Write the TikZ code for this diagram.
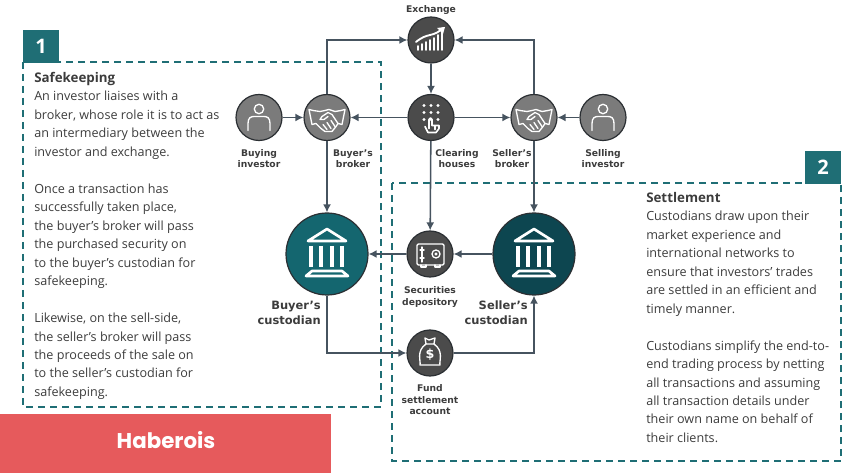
\documentclass[tikz,border=0pt]{standalone}
\usepackage{fontspec}
\setmainfont{Open Sans}
\newfontfamily\lblfont{DejaVu Sans}
\newfontfamily\brandfont{Poppins}
\usetikzlibrary{arrows.meta}
\definecolor{tealA}{HTML}{14666F}
\definecolor{tealB}{HTML}{0D4650}
\definecolor{tealD}{HTML}{1F6E75}
\definecolor{grayA}{HTML}{7B7B7B}
\definecolor{grayB}{HTML}{4B4B4B}
\definecolor{edgeC}{HTML}{2B2F33}
\definecolor{lineC}{HTML}{46535F}
\definecolor{txtC}{HTML}{3C3C3C}
\definecolor{redA}{HTML}{E65A5C}
\tikzset{
  x=.75pt,y=-.75pt,
  disc/.style={circle,draw=edgeC,line width=.9pt,inner sep=0pt,minimum size=34.5pt},
  biggy/.style={circle,draw=edgeC,line width=.9pt,inner sep=0pt,minimum size=61.5pt},
  conn/.style={draw=lineC,line width=1.15pt,-{Latex[length=6pt,width=6pt]}},
  lbl/.style={font=\lblfont\bfseries\fontsize{6.9}{8.6}\selectfont,text=txtC,align=center,inner sep=0pt},
  biglbl/.style={font=\lblfont\bfseries\fontsize{8.6}{11.2}\selectfont,text=txtC,align=right,inner sep=0pt},
  body/.style={font=\fontsize{9.45}{13.85}\selectfont,text=txtC,align=left,inner sep=0pt,anchor=north west},
  dashbox/.style={draw=tealD,line width=.9pt,dash pattern=on 5pt off 4pt},
  numbox/.style={fill=tealD,text=white,inner sep=0pt,font=\bfseries\fontsize{15}{15}\selectfont,minimum width=27pt,minimum height=24.5pt},
  ic/.style={draw=white,line width=1pt,line join=round,line cap=round},
  pics/personicon/.style={code={
    \draw[ic] (0,-8.5) circle[radius=4.7];
    \draw[ic] (-11,13) -- (-11,6) .. controls (-11,0) and (-8,-1) .. (-5,-1) -- (5,-1) .. controls (8,-1) and (11,0) .. (11,6) -- (11,13);
  }},
  pics/shakeicon/.style={code={
    \draw[ic] (-14,-7) -- (-18,-8) -- (-15,7) -- (-11,6);
    \draw[ic] (14,-7) -- (18,-8) -- (15,7) -- (11,6);
    \draw[ic] (-14,-7) -- (-7,-6) -- (-2,-7) -- (2,-8) -- (8,-6) -- (14,-7);
    \draw[ic] (11,6) -- (5,-3) -- (1,-5) -- (-5,-1) -- (-7,2) -- (-3,2) -- (1,-1);
    \draw[ic] (-11,6) -- (-6,11) -- (-2,14) -- (5,14) -- (9,9) -- (11,6);
    \draw[ic] (-4,7) -- (0,12) (0,5) -- (4,11) (4,3) -- (8,9);
  }},
  pics/charticon/.style={code={
    \foreach \bx/\by in {-13/6,-9/4,-5/2,-1/0,3/-2,7/-5,11/-8}{
      \draw[ic,line width=1.4pt] (\bx,10) -- (\bx,\by);
    }
    \draw[ic,line width=1.4pt] (-15,2) .. controls (-9,-3) and (-5,-4) .. (-1,-5) .. controls (4,-6) and (8,-8) .. (12,-12);
    \fill[white] (14,-13) -- (6,-12) -- (12,-6) -- cycle;
  }},
  pics/keypadicon/.style={code={
    \foreach \kx in {-7,0,7}{\foreach \ky in {-12,-5,2}{\fill[white] (\kx,\ky) circle[radius=1.6];}}
    \draw[ic,line width=1.2pt] (-3,15) -- (-6,9) (-3,15) -- (5,15) -- (8,11) -- (8,8) (-2,11) -- (-2,2) .. controls (-2,0) and (1,0) .. (1,2) -- (1,8) -- (8,8) (4,8) -- (4,12);
  }},
  pics/safeicon/.style={code={
    \draw[ic,rounded corners=1pt] (-13,-10) rectangle (14,11);
    \draw[ic] (6,0) circle[radius=4] (6,0) circle[radius=1];
    \draw[ic] (-8,-7) -- (-8,8) (-10,-4) -- (-6,-4) (-10,4) -- (-6,4);
    \draw[ic] (-9,11) -- (-9,13) -- (-4,13) -- (-4,11) (5,11) -- (5,13) -- (10,13) -- (10,11);
  }},
  pics/bagicon/.style={code={
    \draw[ic] (-4,-9) .. controls (-14,-2) and (-9,8) .. (-10,12) -- (10,12) .. controls (9,8) and (14,-2) .. (4,-9);
    \draw[ic] (-4,-9) -- (-5,-15) -- (-1,-13) -- (5,-15) -- (4,-9) -- cycle;
    \node[font=\lblfont\bfseries\fontsize{9.5}{9.5}\selectfont,text=white,inner sep=0pt] at (0,2) {\$};
  }},
  pics/templeicon/.style={code={
    \draw[white,line width=2pt,line join=round] (0,-25) -- (-19,-13) -- (19,-13) -- cycle;
    \foreach \cx in {-16,-6,5,15}{\draw[white,line width=2.4pt] (\cx,-8) -- (\cx,13);}
    \draw[white,line width=2pt,line join=round] (-15,17) -- (15,17) -- (21,22) -- (-21,22) -- cycle;
  }},
}
\begin{document}
\begin{tikzpicture}
\useasboundingbox (0,0) rectangle (850,474);
% dashed regions
\draw[dashbox] (23,62) rectangle (381,407);
\draw[dashbox] (392,183) rectangle (841,461);
\node[numbox] (n1) at (41,46.5) {1};
\node[numbox] (n2) at (823,167.5) {2};
\fill[redA] (0,414) rectangle (331,473);
\node[font=\brandfont\bfseries\fontsize{16}{16}\selectfont,text=white,inner sep=0pt] (brand) at (166,440) {Haberois};
% circles
\node[disc,fill=grayB] (ex) at (431,40) {};
\node[disc,fill=grayB] (ch) at (431,117.5) {};
\node[disc,fill=grayA] (bi) at (259,117.5) {};
\node[disc,fill=grayA] (bb) at (327,117.5) {};
\node[disc,fill=grayA] (sb) at (534,117.5) {};
\node[disc,fill=grayA] (si) at (603,117.5) {};
\node[disc,fill=grayB] (sd) at (430,254) {};
\node[disc,fill=grayB] (fs) at (430,353) {};
\node[biggy,fill=tealA] (bc) at (327,254) {};
\node[biggy,fill=tealB] (sc) at (534,254) {};
% icons
\pic at (431,40) {charticon};
\pic at (431,117.5) {keypadicon};
\pic at (259,117.5) {personicon};
\pic at (603,117.5) {personicon};
\pic at (327,117.5) {shakeicon};
\pic at (534,117.5) {shakeicon};
\pic at (430,254) {safeicon};
\pic at (430,353) {bagicon};
\pic at (327,254) {templeicon};
\pic at (534,254) {templeicon};
% connectors
\draw[conn] (bb.north) |- (ex.west);
\draw[conn] (sb.north) |- (ex.east);
\draw[conn] (ex) -- (ch);
\draw[conn] (ch) -- (bb);
\draw[conn] (ch) -- (sb);
\draw[conn] (bi) -- (bb);
\draw[conn] (si) -- (sb);
\draw[conn] (bb) -- (bc);
\draw[conn] (sb) -- (sc);
\draw[conn] (ch) -- (sd);
\draw[conn] (sc) -- (sd);
\draw[conn] (sd) -- (bc);
\draw[conn] (bc.south) |- (fs.west);
\draw[conn] (fs.east) -| (sc.south);
% labels
\node[lbl] (t1) at (431,10) {Exchange};
\node[lbl] (t2) at (259,158.5) {Buying\\investor};
\node[lbl] (t3) at (353,158.5) {Buyer’s\\broker};
\node[lbl] (t4) at (457,158.5) {Clearing\\houses};
\node[lbl] (t5) at (512,158.5) {Seller’s\\broker};
\node[lbl] (t6) at (603,158.5) {Selling\\investor};
\node[lbl] (t7) at (430,297) {Securities\\depository};
\node[lbl] (t8) at (430,400) {Fund\\settlement\\account};
\node[biglbl,anchor=east] (t9) at (321,313) {Buyer’s\\custodian};
\node[biglbl,anchor=east] (t10) at (528,313) {Seller’s\\custodian};
% body
\node[body] (left) at (34,72) {{\fontsize{10}{13.85}\selectfont\textbf{Safekeeping}}\\
An investor liaises with a\\
broker, whose role it is to act as\\
an intermediary between the\\
investor and exchange.\\[13.85pt]
Once a transaction has\\
successfully taken place,\\
the buyer’s broker will pass\\
the purchased security on\\
to the buyer’s custodian for\\
safekeeping.\\[13.85pt]
Likewise, on the sell-side,\\
the seller’s broker will pass\\
the proceeds of the sale on\\
to the seller’s custodian for\\
safekeeping.};
\node[body] (right) at (646,192) {{\fontsize{10}{13.85}\selectfont\textbf{Settlement}}\\
Custodians draw upon their\\
market experience and\\
international networks to\\
ensure that investors’ trades\\
are settled in an efficient and\\
timely manner.\\[13.85pt]
Custodians simplify the end-to-\\
end trading process by netting\\
all transactions and assuming\\
all transaction details under\\
their own name on behalf of\\
their clients.};
\end{tikzpicture}
\end{document}
